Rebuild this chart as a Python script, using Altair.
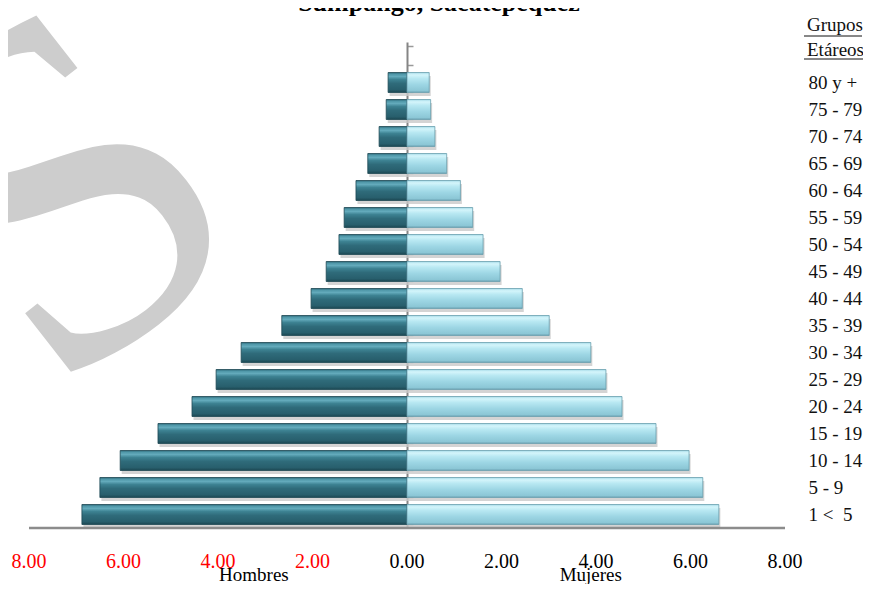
import altair as alt
import pandas as pd

# ---------------- data ----------------
age_groups = ["80 y +", "75 - 79", "70 - 74", "65 - 69", "60 - 64", "55 - 59", "50 - 54",
              "45 - 49", "40 - 44", "35 - 39", "30 - 34", "25 - 29", "20 - 24", "15 - 19",
              "10 - 14", "5 - 9", "1 <\u00a0 5"]
hombres = [0.40, 0.44, 0.59, 0.83, 1.08, 1.33, 1.44, 1.71, 2.03, 2.65, 3.51, 4.04, 4.55,
           5.27, 6.07, 6.50, 6.88]
mujeres = [0.47, 0.50, 0.59, 0.84, 1.13, 1.39, 1.61, 1.97, 2.44, 3.01, 3.89, 4.21, 4.55,
           5.27, 5.97, 6.26, 6.60]
x_ticks = [-8, -6, -4, -2, 0, 2, 4, 6, 8]
x_tick_labels = ["8.00", "6.00", "4.00", "2.00", "0.00", "2.00", "4.00", "6.00", "8.00"]
x_tick_colors = ["#FF0000", "#FF0000", "#FF0000", "#FF0000", "#000000",
                 "#000000", "#000000", "#000000", "#000000"]
side_labels = ["Hombres", "Mujeres"]
side_label_pos = [-3.24, 3.89]
title_text = "Sumpango, Sacatepéquez"
header_lines = ["Grupos", "\u00a0Etáreos"]

W, H = 756, 486
FONT = "Liberation Serif"

y_domain = ["\u00a0"] + age_groups
men_df = pd.DataFrame({"age": age_groups, "val": [-v for v in hombres]})
women_df = pd.DataFrame({"age": age_groups, "val": mujeres})
lab_df = pd.DataFrame({"label": side_labels, "pos": side_label_pos})
tick_df = pd.DataFrame({"v": x_ticks, "lab": x_tick_labels, "col": x_tick_colors})

x_scale = alt.Scale(domain=[-8, 8], nice=False, zero=False)
y_scale = alt.Scale(domain=y_domain, paddingInner=0.26, paddingOuter=0.13)

men_grad = alt.LinearGradient(
    gradient="linear", x1=0, x2=0, y1=0, y2=1,
    stops=[alt.GradientStop(offset=0.0, color="#2a6575"),
           alt.GradientStop(offset=0.08, color="#4f97a8"),
           alt.GradientStop(offset=0.2, color="#63aabb"),
           alt.GradientStop(offset=0.35, color="#3d8292"),
           alt.GradientStop(offset=0.55, color="#2f6b7a"),
           alt.GradientStop(offset=0.85, color="#285f6d"),
           alt.GradientStop(offset=1.0, color="#1d4954")])
women_grad = alt.LinearGradient(
    gradient="linear", x1=0, x2=0, y1=0, y2=1,
    stops=[alt.GradientStop(offset=0.0, color="#a6dbe8"),
           alt.GradientStop(offset=0.12, color="#d4f5fb"),
           alt.GradientStop(offset=0.3, color="#b8e8f2"),
           alt.GradientStop(offset=0.6, color="#9dd6e4"),
           alt.GradientStop(offset=0.9, color="#8cc7d6"),
           alt.GradientStop(offset=1.0, color="#6fa7b6")])

y_label_axis = alt.Axis(orient="right", domain=False, ticks=False, grid=False,
                        labelPadding=23, labelAlign="left", labelFont=FONT,
                        labelFontSize=19, labelColor="#111111", title=None)
y_center_axis = alt.Axis(orient="right", offset=-378, labels=False, grid=False,
                         domainColor="#858585", domainWidth=2, tickColor="#9a9a9a",
                         tickSize=6, tickWidth=1.5, tickBand="extent", title=None)

# watermark
wm = alt.Chart(pd.DataFrame({"t": ["S"]})).mark_text(
    font=FONT, fontSize=490, angle=322, align="center", baseline="middle",
    color="#cdcdcd").encode(text="t:N", x=alt.value(40), y=alt.value(160))

# x axis line and labels
x_domain_line = alt.Chart(pd.DataFrame({"a": [-8], "b": [8]})).mark_rule(
    color="#8c8c8c", strokeWidth=2.5).encode(
    x=alt.X("a:Q", scale=x_scale, axis=None), x2="b:Q", y=alt.value(H))
x_labels = alt.Chart(tick_df).mark_text(font=FONT, fontSize=20, baseline="alphabetic",
                                        align="center").encode(
    x=alt.X("v:Q", scale=x_scale, axis=None), y=alt.value(H + 40), text="lab:N",
    color=alt.Color("col:N", scale=None))

men_shadow = alt.Chart(men_df).mark_bar(color="#c9c9c9", opacity=0.8, yOffset=3.5, xOffset=1.5).encode(
    x=alt.X("val:Q", scale=x_scale, axis=None), x2=alt.datum(0),
    y=alt.Y("age:N", scale=y_scale, sort=None, axis=None))
women_shadow = alt.Chart(women_df).mark_bar(color="#c9c9c9", opacity=0.8, yOffset=3.5, xOffset=1.5).encode(
    x=alt.X("val:Q", scale=x_scale, axis=None), x2=alt.datum(0),
    y=alt.Y("age:N", scale=y_scale, sort=None, axis=None))

men = alt.Chart(men_df).mark_bar(color=men_grad, stroke="#1d4853", strokeWidth=0.8).encode(
    x=alt.X("val:Q", scale=x_scale, axis=None), x2=alt.datum(0),
    y=alt.Y("age:N", scale=y_scale, sort=None, axis=y_label_axis))
women = alt.Chart(women_df).mark_bar(color=women_grad, stroke="#6a9fae", strokeWidth=0.8).encode(
    x=alt.X("val:Q", scale=x_scale, axis=None), x2=alt.datum(0),
    y=alt.Y("age:N", scale=y_scale, sort=None, axis=y_center_axis))

side = alt.Chart(lab_df).mark_text(font=FONT, fontSize=19, baseline="alphabetic",
                                   color="#000000").encode(
    x=alt.X("pos:Q", scale=x_scale, axis=None), y=alt.value(H + 53), text="label:N")

title = alt.Chart(pd.DataFrame({"t": [title_text]})).mark_text(
    font=FONT, fontSize=26, fontWeight="bold", baseline="alphabetic", align="center",
    color="#000000").encode(text="t:N", x=alt.value(410), y=alt.value(-31))

hdr1 = alt.Chart(pd.DataFrame({"t": [header_lines[0]]})).mark_text(
    font=FONT, fontSize=19, baseline="middle", align="left", color="#111111").encode(
    text="t:N", x=alt.value(778), y=alt.value(-17))
hdr2 = alt.Chart(pd.DataFrame({"t": [header_lines[1]]})).mark_text(
    font=FONT, fontSize=19, baseline="middle", align="left", color="#111111").encode(
    text="t:N", x=alt.value(778), y=alt.value(8))
ul1 = alt.Chart(pd.DataFrame({"t": [0]})).mark_rule(color="#111111", strokeWidth=1).encode(
    x=alt.value(775), x2=alt.value(833), y=alt.value(-6))
ul2 = alt.Chart(pd.DataFrame({"t": [0]})).mark_rule(color="#111111", strokeWidth=1).encode(
    x=alt.value(775), x2=alt.value(845), y=alt.value(17))

chart = alt.layer(wm, men_shadow, women_shadow, x_domain_line, men, women, x_labels, side,
                  title, hdr1, hdr2, ul1, ul2
                  ).resolve_axis(y="independent").properties(
    width=W, height=H,
    padding={"left": 21, "top": 34, "right": 78, "bottom": 56},
    autosize=alt.AutoSizeParams(type="none"),
    background="white",
).configure_view(stroke=None)

chart.save("out.html", embed_options={"renderer": "svg", "actions": False})
